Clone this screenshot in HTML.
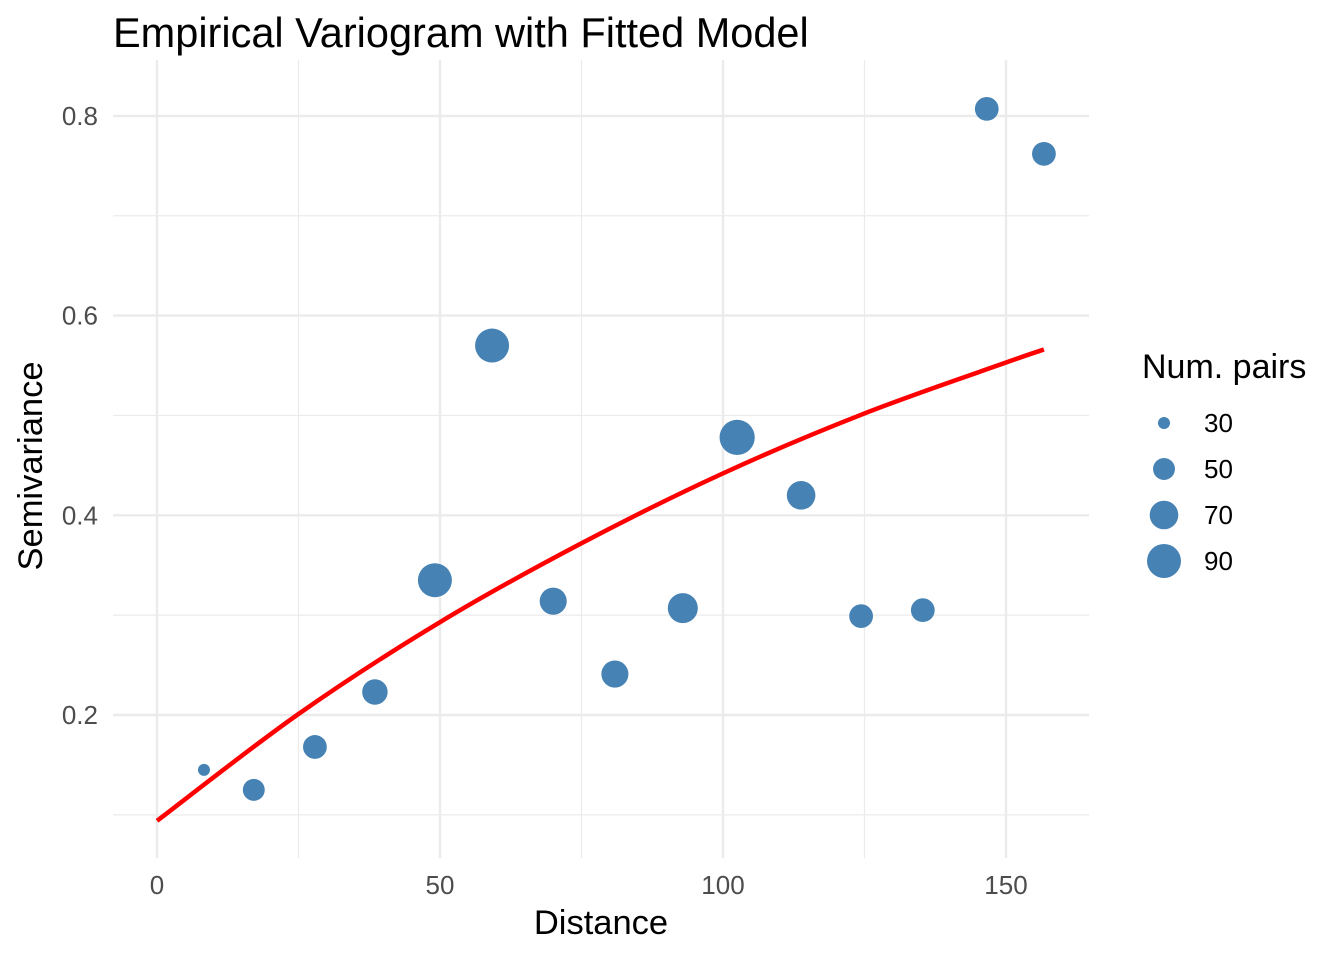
<!DOCTYPE html>
<html><head><meta charset="utf-8"><style>
body{margin:0;background:#fff;font-family:"Liberation Sans",sans-serif}
svg text{font-family:"Liberation Sans",sans-serif}
</style></head><body>
<svg id="chart" width="1344" height="960">
<text x="113" y="47" font-size="41.5" fill="#000">Empirical Variogram with Fitted Model</text>
<g id="grid"></g><g id="marks"></g><g id="axes"></g><g id="legend"></g>
<text x="601" y="934" font-size="34.5" text-anchor="middle" fill="#000">Distance</text>
<text transform="translate(42,466) rotate(-90)" font-size="34.5" text-anchor="middle" fill="#000">Semivariance</text>
</svg>
<script>
const distances=[8.3,17.1,27.9,38.5,49.1,59.2,70.0,80.9,92.9,102.5,113.8,124.4,135.3,146.6,156.7];
const gammas=[0.145,0.125,0.168,0.223,0.335,0.570,0.314,0.241,0.307,0.478,0.420,0.299,0.305,0.807,0.762];
const npairs=[30,50,55,60,90,90,65,65,75,95,70,55,55,55,55];
const modelX=[0,25,50,75,100,125,150,156.7];
const modelY=[0.094,0.201,0.293,0.372,0.442,0.502,0.553,0.566];
const xTicks=[0,50,100,150];
const yTicks=[0.2,0.4,0.6,0.8];
const legendVals=[30,50,70,90];
const NS="http://www.w3.org/2000/svg";
const sx=v=>157+v*5.66;
const sy=v=>715-(v-0.2)*998.5;
const sr=n=>Math.sqrt(36+(289-36)*(n-30)/60);
function mk(tag,attrs,parent){const e=document.createElementNS(NS,tag);for(const k in attrs)e.setAttribute(k,attrs[k]);document.getElementById(parent).appendChild(e);return e;}
const L=113,R=1089,T=60,B=858;
[25,75,125].forEach(v=>{const e=mk('line',{x1:sx(v),x2:sx(v),y1:T,y2:B,stroke:'#ebebeb','stroke-width':1.2},'grid');

});
[0.1,0.3,0.5,0.7].forEach(v=>{const e=mk('line',{x1:L,x2:R,y1:sy(v),y2:sy(v),stroke:'#ebebeb','stroke-width':1.2},'grid');

});
xTicks.forEach(v=>{const e=mk('line',{x1:sx(v),x2:sx(v),y1:T,y2:B,stroke:'#ebebeb','stroke-width':2.4},'grid');


const t=mk('text',{x:sx(v),y:894,'font-size':26,fill:'#4d4d4d','text-anchor':'middle'},'axes');t.textContent=v;

});
yTicks.forEach(v=>{const e=mk('line',{x1:L,x2:R,y1:sy(v),y2:sy(v),stroke:'#ebebeb','stroke-width':2.4},'grid');


const t=mk('text',{x:98,y:sy(v)+9,'font-size':26,fill:'#4d4d4d','text-anchor':'end'},'axes');t.textContent=v.toFixed(1);

});
distances.forEach((d,i)=>{const c=mk('circle',{cx:sx(d),cy:sy(gammas[i]),r:sr(npairs[i]),fill:'#4682b4'},'marks');

});
const P=modelX.map((x,i)=>[sx(x),sy(modelY[i])]);
let d=`M${P[0][0]},${P[0][1]}`;
for(let i=0;i<P.length-1;i++){const p0=P[Math.max(0,i-1)],p1=P[i],p2=P[i+1],p3=P[Math.min(P.length-1,i+2)];
d+=` C${p1[0]+(p2[0]-p0[0])/6},${p1[1]+(p2[1]-p0[1])/6} ${p2[0]-(p3[0]-p1[0])/6},${p2[1]-(p3[1]-p1[1])/6} ${p2[0]},${p2[1]}`;}
const ln=mk('path',{d:d,fill:'none',stroke:'#ff0000','stroke-width':4.5,'stroke-linejoin':'round'},'marks');


const lt=mk('text',{x:1142,y:378,'font-size':34,fill:'#000'},'legend');lt.textContent='Num. pairs';


legendVals.forEach((v,i)=>{const y=423+i*46;
const c=mk('circle',{cx:1164,cy:y,r:sr(v),fill:'#4682b4'},'legend');


const t=mk('text',{x:1204,y:y+9,'font-size':26,fill:'#000'},'legend');t.textContent=v;

});
</script>
</body></html>
